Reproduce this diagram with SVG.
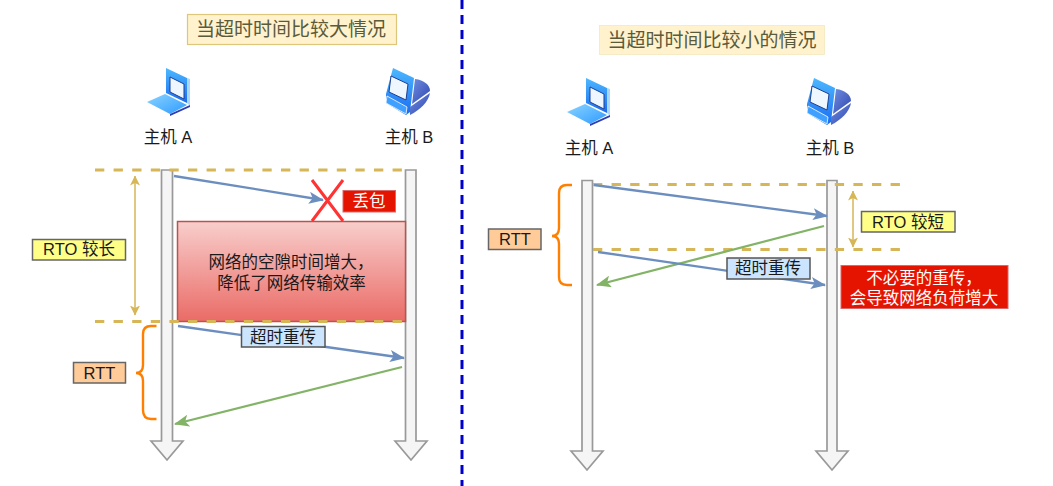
<svg xmlns="http://www.w3.org/2000/svg" width="1053" height="486" viewBox="0 0 1053 486">
<style>
text{font-family:"Liberation Sans","Noto Sans CJK SC",sans-serif;fill:#1a1a1a;text-anchor:middle}
.host{font-size:16.500px}
.lbl{font-size:16.500px}
.title{font-size:19px;fill:#5a5a3c}
.dash{stroke:#d6b656;stroke-width:3;stroke-dasharray:9.3 9.3;fill:none}
.life{fill:#f5f5f5;stroke:#999;stroke-width:1.700}
.blue{stroke:#6c8ebf;stroke-width:2.300;fill:none;marker-end:url(#mb)}
.green{stroke:#82b366;stroke-width:2.300;fill:none;marker-end:url(#mg)}
.brace{stroke:#ff8000;stroke-width:2.400;fill:none}
.yarrow{stroke:#d6b656;stroke-width:1.500;fill:none;marker-start:url(#my);marker-end:url(#my)}
.ybox{fill:#ffff88;stroke:#666;stroke-width:1.500}
.obox{fill:#ffcc99;stroke:#666;stroke-width:1.500}
.bbox{fill:#cce5ff;stroke:#555;stroke-width:1.500}
.rbox{fill:#e51400;stroke:#d66;stroke-width:1}
.w{fill:#fff}
</style>
<defs>
<marker id="mb" viewBox="0 0 15 12" refX="14" refY="6" markerWidth="15" markerHeight="12" markerUnits="userSpaceOnUse" orient="auto"><path d="M0 0L15 6L0 12L3.500 6Z" fill="#6c8ebf"/></marker>
<marker id="mg" viewBox="0 0 15 12" refX="14" refY="6" markerWidth="15" markerHeight="12" markerUnits="userSpaceOnUse" orient="auto"><path d="M0 0L15 6L0 12L3.500 6Z" fill="#82b366"/></marker>
<marker id="my" viewBox="0 0 10 10" refX="9.500" refY="5" markerWidth="10" markerHeight="10" markerUnits="userSpaceOnUse" orient="auto-start-reverse"><path d="M0 0L10 5L0 10L2.500 5Z" fill="#d6b656"/></marker>
<linearGradient id="red" x1="0" y1="0" x2="0" y2="1"><stop offset="0" stop-color="#f8cecc"/><stop offset="1" stop-color="#ea6b66"/></linearGradient>
<linearGradient id="ic" x1="0" y1="0" x2="0" y2="1"><stop offset="0" stop-color="#4db8ff"/><stop offset="1" stop-color="#1a6cf0"/></linearGradient>
<linearGradient id="ic2" x1="0" y1="0" x2="1" y2="1"><stop offset="0" stop-color="#6f8fe0"/><stop offset="1" stop-color="#2f45b0"/></linearGradient>
<linearGradient id="ic3" x1="0" y1="0" x2="1" y2="1"><stop offset="0" stop-color="#8ad4ff"/><stop offset="1" stop-color="#2f9bff"/></linearGradient>
<symbol id="laptop" width="46" height="50" viewBox="0 0 46 50" overflow="visible">
<path d="M18 0L43 11V39L23 49L0 35L18 26Z" fill="#fff"/>
<path d="M19 1L40 11V36L19 26Z" fill="url(#ic)"/>
<path d="M40 11L43 12V39L40 36Z" fill="#a8d8ff"/>
<path d="M23 10L37 17V32L23 25Z" fill="#eef6ff" stroke="#1d3f90"/>
<path d="M18 27L40 38L23 47L0 35Z" fill="url(#ic3)"/>
<path d="M23 47L43 38V40L23 49Z" fill="#2f3fb0"/>
</symbol>
<symbol id="desktop" width="46" height="48" viewBox="0 0 46 48" overflow="visible">
<path d="M7 0L28 10L24 44L20 47L0 35V26Z" fill="url(#ic)"/>
<path d="M5 8L22 16L20 32L3 24Z" fill="#eef6ff" stroke="#1d3f90"/>
<path d="M1 28L21 39L20 46L0 35Z" fill="#3fa0ff" stroke="#fff" stroke-width=".8"/>
<path d="M29 11C38 12 44 17 44 23L26 36Z" fill="url(#ic2)"/>
<path d="M44 25C43 33 34 42 24 47V39Z" fill="url(#ic2)"/>
</symbol>
</defs>

<g id="divider"><line x1="462" y1="0" x2="462" y2="486" stroke="#0000cc" stroke-width="3" stroke-dasharray="9 6"/></g>

<g id="title-left"><rect x="187.500" y="14.500" width="209" height="30" fill="#fff2cc" stroke="#dcc77a" stroke-width="1.200"/><text class="title" x="291" y="36">当超时时间比较大情况</text></g>
<g id="title-right"><rect x="599.500" y="25.500" width="225" height="29" fill="#fff2cc" stroke="#f3e8c0" stroke-width=".8"/><text class="title" x="712" y="47">当超时时间比较小的情况</text></g>

<g id="host-a-left"><use href="#laptop" x="147" y="67"/><text class="host" x="168" y="143">主机 A</text></g>
<g id="host-b-left"><use href="#desktop" x="386" y="68"/><text class="host" x="409" y="143">主机 B</text></g>
<g id="host-a-right"><use href="#laptop" x="567" y="77"/><text class="host" x="589" y="154">主机 A</text></g>
<g id="host-b-right"><use href="#desktop" x="807" y="78"/><text class="host" x="830" y="154">主机 B</text></g>

<g id="lifelines">
<path id="life-a-left" class="life" d="M161.500 170H172.500V441H183L167 460L151 441H161.500Z"/>
<path id="life-b-left" class="life" d="M405.500 170H416V441H427L411 460L395 441H405.500Z"/>
<path id="life-a-right" class="life" d="M582 180.500H592.500V451H603L587 470L571 451H582Z"/>
<path id="life-b-right" class="life" d="M827 180.500H837V451H848L832 470L816 451H827Z"/>
</g>

<g id="loss-box"><rect x="177.500" y="221.500" width="228" height="100" fill="url(#red)" stroke="#b85450" stroke-width="1.500"/><text class="lbl" x="291" y="268">网络的空隙时间增大，</text><text class="lbl" x="291.500" y="289">降低了网络传输效率</text></g>

<g id="connectors">
<path class="dash" d="M95 170H405"/>
<path class="dash" d="M95 321.500H405"/>
<path class="dash" d="M593 184.500H900"/>
<path class="dash" d="M593 249.500H900"/>
<path class="blue" d="M174 176L323 200"/>
<path class="blue" d="M178 326L404 358"/>
<path class="green" d="M402 367L175 424"/>
<path class="blue" d="M594 185L827 216"/>
<path class="green" d="M824 226L597 285"/>
<path class="blue" d="M598 252L825 285"/>
<path class="yarrow" d="M135 176V315"/>
<path class="yarrow" d="M853 191V247"/>
<path class="brace" d="M156.500 326H151Q143 326 143 334V365Q143 373 136 373Q143 373 143 381V410Q143 419 151 419H156.500"/>
<path class="brace" d="M572 185H567Q559 185 559 193V228Q559 236 552 236Q559 236 559 244V277Q559 285 567 285H572"/>
<path d="M312 180L343 221M343 180L312 221" stroke="#ff3333" stroke-width="3" fill="none"/>
</g>

<g id="loss-label"><rect class="rbox" x="343" y="190.500" width="52.500" height="21.500"/><text class="lbl w" x="369" y="207">丢包</text></g>
<g id="rto-long"><rect class="ybox" x="32.500" y="239.500" width="93" height="20.500"/><text class="lbl" x="79" y="255">RTO 较长</text></g>
<g id="rtt-left"><rect class="obox" x="73.500" y="362.500" width="52" height="20.500"/><text class="lbl" x="99.500" y="379">RTT</text></g>
<g id="retrans-left"><rect class="bbox" x="241.500" y="326.500" width="83.500" height="20.500"/><text class="lbl" x="283" y="343">超时重传</text></g>
<g id="rtt-right"><rect class="obox" x="488.500" y="229" width="52.500" height="20.500"/><text class="lbl" x="515" y="245">RTT</text></g>
<g id="rto-short"><rect class="ybox" x="861.500" y="211.500" width="93.500" height="20.500"/><text class="lbl" x="908" y="228">RTO 较短</text></g>
<g id="retrans-right"><rect class="bbox" x="727" y="258" width="83" height="21"/><text class="lbl" x="768" y="274">超时重传</text></g>
<g id="unneeded"><rect class="rbox" x="841" y="265.500" width="167" height="43"/><text class="lbl w" x="924" y="284">不必要的重传，</text><text class="lbl w" x="924" y="304">会导致网络负荷增大</text></g>
</svg>
